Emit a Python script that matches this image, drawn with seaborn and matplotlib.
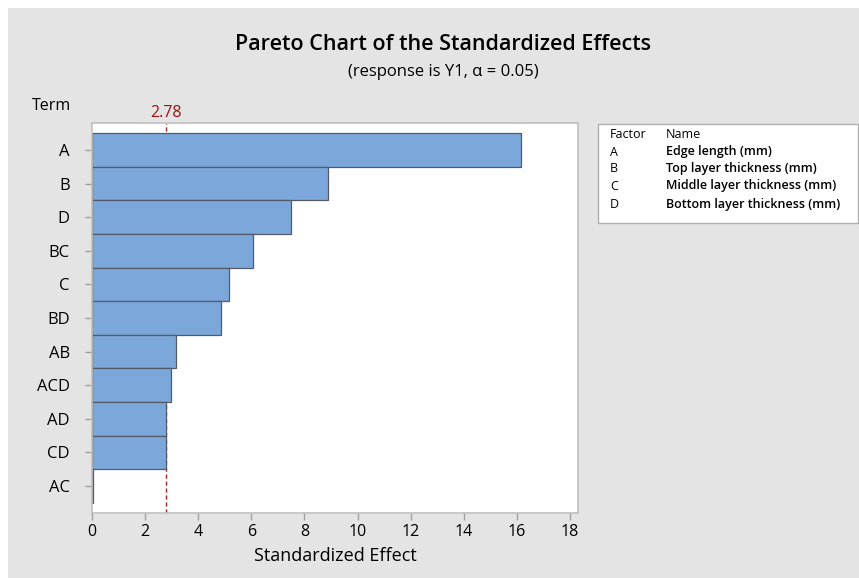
import matplotlib
matplotlib.use("Agg")
import matplotlib.pyplot as plt
import seaborn as sns
import pandas as pd
from matplotlib.patches import Rectangle

terms = ["A", "B", "D", "BC", "C", "BD", "AB", "ACD", "AD", "CD", "AC"]
effects = [16.15, 8.89, 7.49, 6.06, 5.16, 4.86, 3.15, 2.99, 2.80, 2.80, 0.05]
critical = 2.78
factors = ["A", "B", "C", "D"]
names = ["Edge length (mm)", "Top layer thickness (mm)",
         "Middle layer thickness (mm)", "Bottom layer thickness (mm)"]
xticks = [0, 2, 4, 6, 8, 10, 12, 14, 16, 18]

sns.set_theme(style="white")
plt.rcParams['font.family'] = ['Open Sans', 'DejaVu Sans']
plt.rcParams['text.color'] = 'black'

W, H = 859, 578
fig = plt.figure(figsize=(W / 100, H / 100), dpi=100)
fig.patch.set_facecolor("white")
fig.patches.append(Rectangle((8 / W, 0), 1 - 8 / W, 1 - 8 / H, transform=fig.transFigure,
                             facecolor="#e4e4e4", edgecolor="none", zorder=-10))

ax = fig.add_axes([92 / W, (H - 513) / H, (578 - 92) / W, (513 - 123) / H])
ax.set_facecolor("white")

df = pd.DataFrame({"Term": terms, "Effect": effects})
ax.axvline(critical, color="#b22222", ls=(0, (3, 2)), lw=1.0, zorder=0)
sns.barplot(data=df, x="Effect", y="Term", orient="h", order=terms, width=1.0,
            color="#7ba7da", saturation=1, edgecolor="#555b66", linewidth=0.9, ax=ax, zorder=2)

ax.set_xlim(0, 18.3)
ax.set_ylim(10.8, -0.8)
ax.set_xticks(xticks)
ax.set_xticklabels([str(t) for t in xticks], fontsize=11.5)
ax.set_yticks(range(len(terms)))
ax.set_yticklabels(terms, fontsize=12)
ax.tick_params(axis="both", which="both", direction="out", length=5, width=1,
               color="#a0a0a0", pad=3, labelcolor="black")
ax.tick_params(axis="y", pad=11)
ax.tick_params(left=True, bottom=True)
for s in ax.spines.values():
    s.set_color("#c0c0c0")
    s.set_linewidth(1.2)
ax.set_xlabel("Standardized Effect", fontsize=13, labelpad=5, color="black")
ax.set_ylabel("")

fig.text(443 / W, 1 - 45 / H, "Pareto Chart of the Standardized Effects",
         ha="center", va="center", fontsize=15.5, fontweight="semibold")
fig.text(443 / W, 1 - 72 / H, "(response is Y1, α = 0.05)", ha="center", va="center", fontsize=12)
fig.text(51 / W, 1 - 106 / H, "Term", ha="center", va="center", fontsize=11.5)
ax.text(critical, -0.85, "2.78", transform=ax.transData, ha="center", va="bottom",
        fontsize=11.5, color="#a01010", clip_on=False)

# Legend table
fig.patches.append(Rectangle((598 / W, 1 - 223 / H), (858 - 598) / W, (223 - 124) / H,
                             transform=fig.transFigure, facecolor="white",
                             edgecolor="#b0b0b0", lw=1.0))
rows_y = [135, 152, 169, 186, 204]
fig.text(610 / W, 1 - rows_y[0] / H, "Factor", ha="left", va="center", fontsize=9)
fig.text(666 / W, 1 - rows_y[0] / H, "Name", ha="left", va="center", fontsize=9)
for f, n, y in zip(factors, names, rows_y[1:]):
    fig.text(610 / W, 1 - y / H, f, ha="left", va="center", fontsize=9)
    fig.text(666 / W, 1 - y / H, n, ha="left", va="center", fontsize=9, fontweight="semibold")

fig.savefig("out.png", dpi=100, facecolor=fig.get_facecolor())
